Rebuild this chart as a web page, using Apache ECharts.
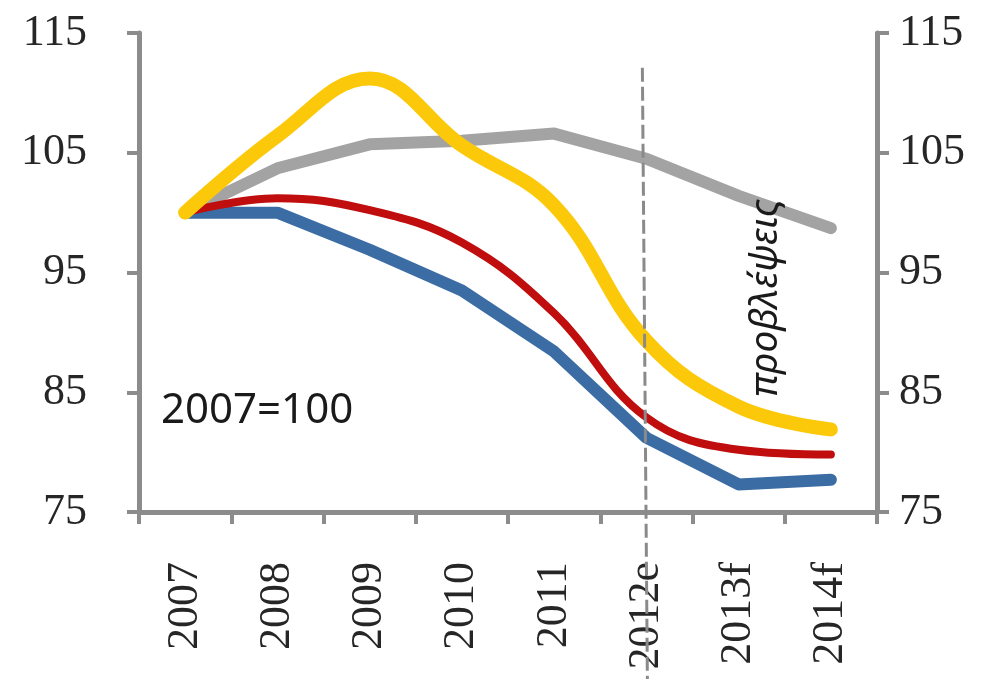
<!DOCTYPE html>
<html>
<head>
<meta charset="utf-8">
<script src="https://cdn.jsdelivr.net/npm/echarts@6/dist/echarts.min.js"></script>
<style>html,body{margin:0;padding:0;background:#fff}#c{width:1008px;height:679px}</style>
</head>
<body>
<div id="c"></div>
<script>
var categories = ['2007','2008','2009','2010','2011','2012e','2013f','2014f'];
var yTicks = [75, 85, 95, 105, 115];
var grayValues   = [100, 103.7, 105.7, 106.0, 106.6, 104.5, 101.4, 98.7];
var blueValues   = [100, 100.0, 96.9, 93.5, 88.4, 81.2, 77.3, 77.7];
var redValues    = [100, 101.2, 100.2, 97.5, 91.6, 82.9, 80.2, 79.8];
var yellowValues = [100, 106.4, 111.2, 105.6, 100.6, 89.3, 83.8, 81.9];
var forecastLabel = 'προβλέψεις';
var baseLabel = '2007=100';
var forecastStart = '2012e';
var forecastTop = 112.1;

var chart = echarts.init(document.getElementById('c'));
var axisGray = '#8c8c8c';
var serif = '"Liberation Serif","Times New Roman",serif';

function yAxisCfg(pos, margin) {
  return {
    type: 'value', position: pos, min: yTicks[0], max: yTicks[yTicks.length-1], interval: 10,
    axisLine: {show: true, lineStyle: {color: axisGray, width: 5}},
    axisTick: {show: true, length: 12, lineStyle: {color: axisGray, width: 4}},
    splitLine: {show: false},
    axisLabel: {color: '#262626', fontFamily: serif, fontSize: 44, margin: margin}
  };
}

var option = {
  animation: false,
  grid: {left: 139, right: 131, top: 33, bottom: 167},
  xAxis: {
    type: 'category', data: categories, boundaryGap: true,
    axisLine: {lineStyle: {color: axisGray, width: 5}},
    axisTick: {show: true, length: 12, lineStyle: {color: axisGray, width: 4}},
    axisLabel: {rotate: 90, color: '#262626', fontFamily: serif, fontSize: 44, margin: 50}
  },
  yAxis: [yAxisCfg('left', 52), yAxisCfg('right', 22)],
  series: [
    {type: 'line', data: grayValues, symbol: 'none', z: 2,
     lineStyle: {color: '#a3a3a3', width: 12, cap: 'round', join: 'round'}},
    {type: 'line', data: blueValues, symbol: 'none', z: 3,
     lineStyle: {color: '#3b6ca3', width: 12, cap: 'round', join: 'round'}},
    {type: 'line', data: redValues, symbol: 'none', smooth: 0.4, z: 4,
     lineStyle: {color: '#c00d0d', width: 8, cap: 'round', join: 'round'}},
    {type: 'line', data: yellowValues, symbol: 'none', smooth: 0.4, z: 5,
     lineStyle: {color: '#fcc80a', width: 14, cap: 'round', join: 'round'}}
  ]
};
chart.setOption(option);

var dashTop = chart.convertToPixel({xAxisIndex: 0, yAxisIndex: 0}, [forecastStart, forecastTop]);
var chartH = chart.getHeight();
chart.setOption({
  graphic: [
    {type: 'line', z: 20, silent: true,
     shape: {x1: dashTop[0] - 4, y1: dashTop[1], x2: dashTop[0] + 1, y2: chartH},
     style: {stroke: '#8a8a8a', lineWidth: 3, lineDash: [14, 5]}},
    {type: 'text', left: 161, top: 390, z: 10,
     style: {text: baseLabel, font: '42px "Noto Sans", "Liberation Sans", sans-serif', fill: '#1a1a1a'}},
    {type: 'text', x: 766, y: 298, rotation: Math.PI/2, z: 10,
     style: {text: forecastLabel, font: 'italic 39px "Noto Sans", "Liberation Sans", sans-serif', fill: '#1a1a1a',
             align: 'center', verticalAlign: 'middle'}}
  ]
});
</script>
</body>
</html>
